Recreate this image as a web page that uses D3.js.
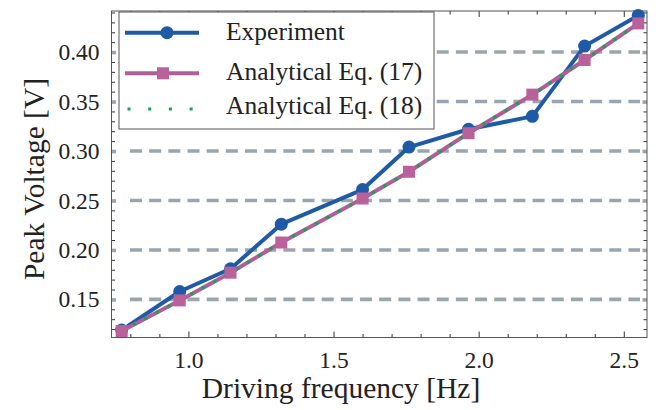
<!DOCTYPE html>
<html>
<head>
<meta charset="utf-8">
<script src="https://cdn.jsdelivr.net/npm/d3@7"></script>
<style>
  html, body { margin: 0; padding: 0; background: #fff; }
  svg { display: block; }
</style>
</head>
<body>
<svg id="chart" width="656" height="410"></svg>
<script>
// ---- data ----
const frequency = [0.77, 0.97, 1.145, 1.32, 1.60, 1.76, 1.965, 2.185, 2.365, 2.55];
const experiment = [0.119, 0.158, 0.181, 0.226, 0.261, 0.304, 0.322, 0.335, 0.406, 0.437];
const analytical17 = [0.118, 0.149, 0.177, 0.2075, 0.252, 0.279, 0.318, 0.357, 0.392, 0.429];
const analytical18 = [0.118, 0.149, 0.177, 0.2075, 0.252, 0.279, 0.318, 0.357, 0.392, 0.429];
const xMajorTicks = [1.0, 1.5, 2.0, 2.5];
const yMajorTicks = [0.15, 0.20, 0.25, 0.30, 0.35, 0.40];
const seriesNames = ["Experiment", "Analytical Eq. (17)", "Analytical Eq. (18)"];

// ---- layout ----
const FONT = '"Liberation Serif"';
const L = 111.5, R = 647, T = 11, B = 337.5;
const svg = d3.select("#chart");
const x = d3.scaleLinear().domain([0.735, 2.58]).range([L, R]);
const y = d3.scaleLinear().domain([0.1115, 0.4415]).range([B, T]);

const BLUE = "#1f5aa6", PINK = "#b05e98", PINKM = "#b8619a", GREEN = "#12a650", GRID = "#9aa5af";

function serif(sel, size) {
  sel.attr("font-family", "Liberation Serif").style("font-family", FONT).attr("font-size", size);
  return sel;
}

// gridlines
svg.append("g").selectAll("line").data(yMajorTicks).join("line")
  .attr("x1", 130).attr("x2", 640)
  .attr("y1", d => y(d)).attr("y2", d => y(d))
  .attr("stroke", GRID).attr("stroke-width", 3.6)
  .attr("stroke-dasharray", "12,7.17");

// minor ticks
const xMinor = d3.range(8, 26).map(i => i / 10).filter(v => !xMajorTicks.some(m => Math.abs(m - v) < 1e-6));
const yMinor = d3.range(12, 45).map(i => i / 100).filter(v => !yMajorTicks.some(m => Math.abs(m - v) < 1e-6));

const axB = d3.axisBottom(x).tickValues(xMinor).tickSize(-3.5).tickFormat("");
const axT = d3.axisTop(x).tickValues(xMinor).tickSize(-3.5).tickFormat("");
const axL = d3.axisLeft(y).tickValues(yMinor).tickSize(-3.5).tickFormat("");
const axR = d3.axisRight(y).tickValues(yMinor).tickSize(-3.5).tickFormat("");
const axBM = d3.axisBottom(x).tickValues(xMajorTicks).tickSize(-6).tickPadding(14).tickFormat(d3.format(".1f"));
const axTM = d3.axisTop(x).tickValues(xMajorTicks).tickSize(-6).tickFormat("");
const axLM = d3.axisLeft(y).tickValues(yMajorTicks).tickSize(-4.5).tickPadding(12).tickFormat(d3.format(".2f"));
const axRM = d3.axisRight(y).tickValues(yMajorTicks).tickSize(-4.5).tickFormat("");

function styleAxis(g, color, width) {
  g.attr("font-family", "Liberation Serif").attr("font-size", 23.5);
  g.select(".domain").remove();
  g.selectAll(".tick line").attr("stroke", color).attr("stroke-width", width);
  g.selectAll(".tick text").call(s => serif(s, 23.5)).attr("fill", "#222");
}
svg.append("g").attr("transform", `translate(0,${B})`).call(axB).call(g => styleAxis(g, "#333", 1));
svg.append("g").attr("transform", `translate(0,${T})`).call(axT).call(g => styleAxis(g, "#333", 1));
svg.append("g").attr("transform", `translate(${L},0)`).call(axL).call(g => styleAxis(g, "#333", 1));
svg.append("g").attr("transform", `translate(${R},0)`).call(axR).call(g => styleAxis(g, "#333", 1));
svg.append("g").attr("transform", `translate(0,${B})`).call(axBM).call(g => styleAxis(g, "#333", 1));
svg.append("g").attr("transform", `translate(0,${T})`).call(axTM).call(g => styleAxis(g, "#333", 1));
svg.append("g").attr("transform", `translate(${L},0)`).call(axLM).call(g => styleAxis(g, GRID, 3.6));
svg.append("g").attr("transform", `translate(${R},0)`).call(axRM).call(g => styleAxis(g, GRID, 3.6));

// frame
svg.append("rect").attr("x", L).attr("y", T).attr("width", R - L).attr("height", B - T)
  .attr("fill", "none").attr("stroke", "#555").attr("stroke-width", 1);

// series
const pts = (ys) => frequency.map((f, i) => [f, ys[i]]);
const line = d3.line().x(d => x(d[0])).y(d => y(d[1]));

svg.append("path").datum(pts(experiment)).attr("d", line)
  .attr("fill", "none").attr("stroke", BLUE).attr("stroke-width", 4).attr("stroke-linejoin", "round");
svg.append("g").selectAll("circle").data(pts(experiment)).join("circle")
  .attr("cx", d => x(d[0])).attr("cy", d => y(d[1])).attr("r", 6.5).attr("fill", BLUE);

svg.append("path").datum(pts(analytical17)).attr("d", line)
  .attr("fill", "none").attr("stroke", PINK).attr("stroke-width", 4).attr("stroke-linejoin", "round");
svg.append("path").datum(pts(analytical18)).attr("d", line)
  .attr("fill", "none").attr("stroke", GREEN).attr("stroke-width", 3.2).attr("stroke-dasharray", "3,10");
svg.append("g").selectAll("rect").data(pts(analytical17)).join("rect")
  .attr("x", d => x(d[0]) - 6).attr("y", d => y(d[1]) - 6).attr("width", 12).attr("height", 12).attr("fill", PINKM);

// legend
const lg = svg.append("g");
lg.append("rect").attr("x", 119).attr("y", 12).attr("width", 315).attr("height", 117)
  .attr("fill", "#fff").attr("stroke", "#555").attr("stroke-width", 1);
const rowsY = [32.7, 73.3, 109];
const baseY = [40, 79.5, 113.5];
lg.append("line").attr("x1", 125).attr("x2", 199).attr("y1", rowsY[0]).attr("y2", rowsY[0])
  .attr("stroke", BLUE).attr("stroke-width", 4);
lg.append("circle").attr("cx", 167).attr("cy", rowsY[0]).attr("r", 6.5).attr("fill", BLUE);
lg.append("line").attr("x1", 125).attr("x2", 199).attr("y1", rowsY[1]).attr("y2", rowsY[1])
  .attr("stroke", PINK).attr("stroke-width", 4);
lg.append("rect").attr("x", 163 - 6).attr("y", rowsY[1] - 6).attr("width", 12).attr("height", 12).attr("fill", PINKM);
lg.append("line").attr("x1", 127.5).attr("x2", 199).attr("y1", rowsY[2]).attr("y2", rowsY[2])
  .attr("stroke", GREEN).attr("stroke-width", 3.2).attr("stroke-dasharray", "3,17.7");
lg.selectAll("text.lab").data(seriesNames).join("text").attr("class", "lab")
  .attr("x", 226).attr("y", (d, i) => baseY[i]).attr("fill", "#222")
  .call(s => serif(s, 25.5)).text(d => d);

// axis titles
svg.append("text").attr("x", 341).attr("y", 398).attr("text-anchor", "middle").attr("fill", "#222")
  .call(s => serif(s, 29.5)).text("Driving frequency [Hz]");
svg.append("text").attr("transform", "translate(44,179) rotate(-90)").attr("text-anchor", "middle").attr("fill", "#222")
  .call(s => serif(s, 29.5)).text("Peak Voltage [V]");
</script>
</body>
</html>
